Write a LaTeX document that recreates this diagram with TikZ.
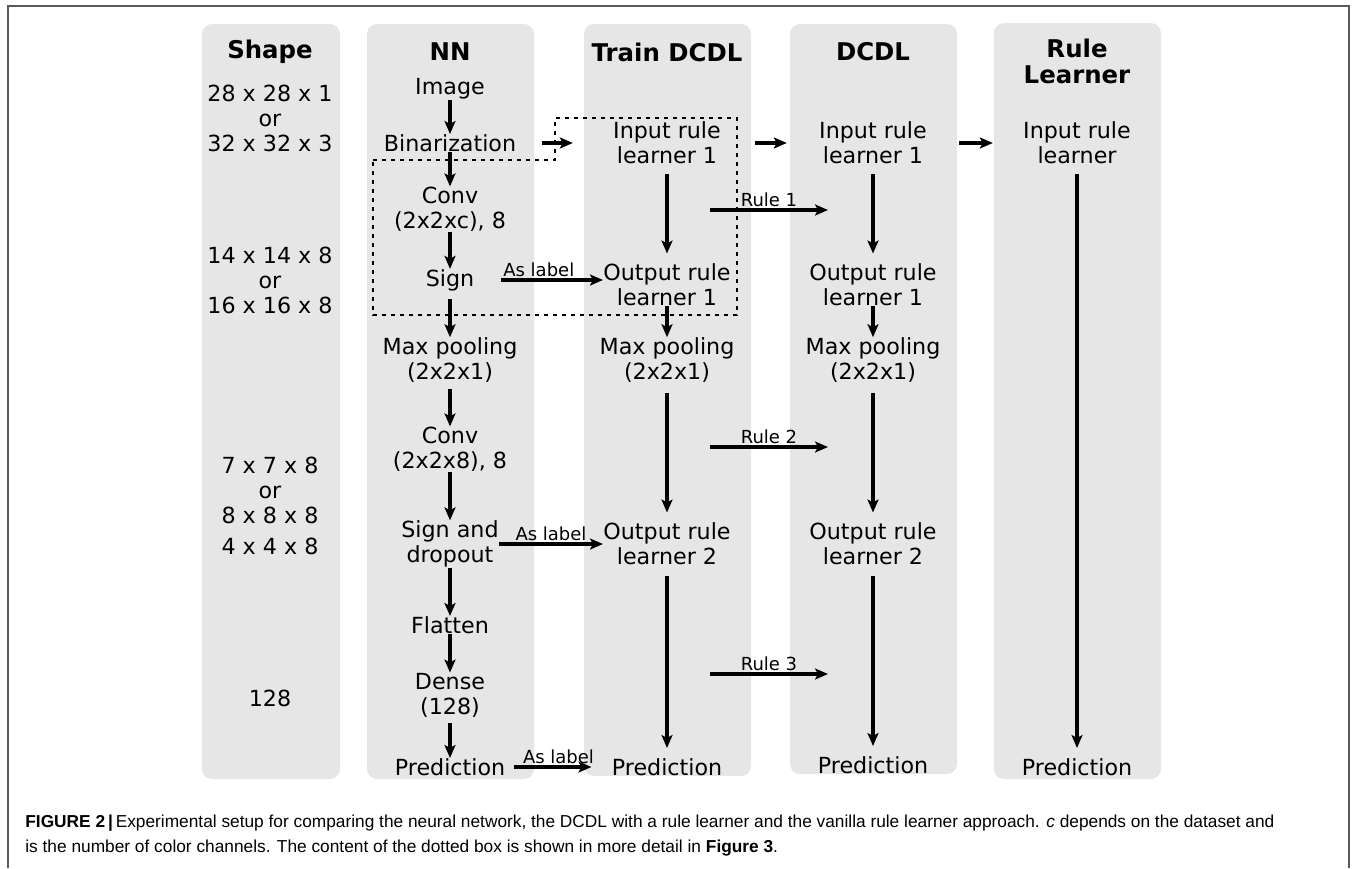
\documentclass[tikz,border=0pt]{standalone}
\usepackage{fontspec}
\setmainfont{DejaVu Sans}
\newfontfamily\capfont{Liberation Sans}
\usetikzlibrary{arrows.meta}
\definecolor{colbg}{RGB}{230,230,230}
\definecolor{framegray}{RGB}{90,90,90}
\tikzset{
  column/.style={fill=colbg,rounded corners=5pt},
  txt/.style={font=\fontsize{11.1}{12.5}\selectfont,align=center,inner sep=0pt},
  head/.style={font=\fontsize{12.2}{13}\selectfont\bfseries,align=center,inner sep=0pt},
  small/.style={font=\fontsize{9}{10}\selectfont,inner sep=1pt},
  arr/.style={-{Stealth[length=6.5pt,width=5.5pt,inset=1.5pt]},line width=1.7pt},
  longarr/.style={arr,shorten <=5pt,shorten >=5pt},
  dots/.style={line width=0.7pt,dash pattern=on 2.2pt off 2.3pt}
}
\begin{document}
\begin{tikzpicture}[x=0.5pt,y=-0.5pt]
      \useasboundingbox (0,0) rectangle (1354,868);
      \draw[framegray,line width=0.7pt] (8,868) -- (8,6) -- (1349,6) -- (1349,868);
      \fill[column] (202,24) rectangle (340,779);
      \fill[column] (367,24) rectangle (534,779);
      \fill[column] (584,24) rectangle (751,776);
      \fill[column] (790,24) rectangle (957,774);
      \fill[column] (994,23) rectangle (1161,779);
      \draw[dots] (373,160) -- (555,160) -- (555,118) -- (737,118) -- (737,315) -- (373,315) -- cycle;
      \draw
        (270,52) node[head] (hshape){Shape}
        (450,52) node[head] (hnn){NN}
        (667,52) node[head] (htrain){Train DCDL}
        (873,52) node[head] (hdcdl){DCDL}
        (1077,61) node[head] (hrl){Rule\\Learner};
      \draw
        (270,118) node[txt] (s0){28 x 28 x 1\\or\\32 x 32 x 3}
        (270,280) node[txt] (s1){14 x 14 x 8\\or\\16 x 16 x 8}
        (270,490) node[txt] (s2){7 x 7 x 8\\or\\8 x 8 x 8}
        (270,546) node[txt] (s3){4 x 4 x 8}
        (270,698) node[txt] (s4){128};
      \draw
        (450,89) node[txt] (img){Image}
        (450,143) node[txt] (bin){Binarization}
        (450,209) node[txt] (conv1){Conv\\(2x2xc), 8}
        (450,280) node[txt] (sign1){Sign}
        (450,360) node[txt] (pool1){Max pooling\\(2x2x1)}
        (450,449) node[txt] (conv2){Conv\\(2x2x8), 8}
        (450,544) node[txt] (sign2){Sign and\\dropout}
        (450,625) node[txt] (flat){Flatten}
        (450,695) node[txt] (dense){Dense\\(128)}
        (450,767) node[txt] (pred){Prediction};
      \draw
        (667,143) node[txt] (tin1){Input rule\\learner 1}
        (667,285) node[txt] (tout1){Output rule\\learner 1}
        (667,360) node[txt] (tpool){Max pooling\\(2x2x1)}
        (667,544) node[txt] (tout2){Output rule\\learner 2}
        (667,767) node[txt] (tpred){Prediction};
      \draw
        (873,143) node[txt] (din1){Input rule\\learner 1}
        (873,285) node[txt] (dout1){Output rule\\learner 1}
        (873,360) node[txt] (dpool){Max pooling\\(2x2x1)}
        (873,544) node[txt] (dout2){Output rule\\learner 2}
        (873,765) node[txt] (dpred){Prediction};
      \draw
        (1077,143) node[txt] (rin){Input rule\\learner}
        (1077,767) node[txt] (rpred){Prediction};
      \coordinate (r1a) at (710,210);
      \coordinate (r1b) at (828,210);
      \coordinate (r2a) at (710,447);
      \coordinate (r2b) at (828,447);
      \coordinate (r3a) at (710,674);
      \coordinate (r3b) at (828,674);
      \begin{scope}[arr]
        \draw (img) to (bin);
        \draw (bin) to (conv1);
        \draw (conv1) to (sign1);
        \draw[shorten <=4pt] (sign1) to (pool1);
        \draw[shorten <=3pt] (pool1) to (conv2);
        \draw (conv2) to (sign2);
        \draw (sign2) to (flat);
        \draw (flat) to (dense);
        \draw[shorten <=3pt] (dense) to (pred);
        \draw[longarr] (tin1) to (tout1);
        \draw (tout1) to (tpool);
        \draw[longarr] (tpool) to (tout2);
        \draw[longarr] (tout2) to (tpred);
        \draw[longarr] (din1) to (dout1);
        \draw (dout1) to (dpool);
        \draw[longarr] (dpool) to (dout2);
        \draw[longarr] (dout2) to (dpred);
        \draw[longarr] (rin) to (rpred);
        \draw[shorten <=13pt,shorten >=20pt] (bin) to (tin1);
        \draw[shorten <=17pt,shorten >=16pt] (tin1) to (din1);
        \draw[shorten <=16pt,shorten >=15pt] (din1) to (rin);
        \draw[shorten <=13pt] (sign1.east) to node[small,above]{As label} (sign1.east -| tout1.west);
        \draw (sign2) to node[small,above]{As label} (tout2);
        \draw[shorten <=4pt,shorten >=10pt] (pred) to node[small,above]{As label} (tpred);
        \draw (r1a) to node[small,above]{Rule 1} (r1b);
        \draw (r2a) to node[small,above]{Rule 2} (r2b);
        \draw (r3a) to node[small,above]{Rule 3} (r3b);
      \end{scope}
      \node[font=\capfont\fontsize{8.65}{12.5}\selectfont,align=left,inner sep=0pt,anchor=west] (cap) at (25,836)
        {{\bfseries FIGURE 2\,|\,}Experimental setup for comparing the neural network, the DCDL with a rule learner and the vanilla rule learner approach. \textit{c} depends on the dataset and\\
         is the number of color channels. The content of the dotted box is shown in more detail in \textbf{Figure 3}.};
    \end{tikzpicture}
\end{document}
